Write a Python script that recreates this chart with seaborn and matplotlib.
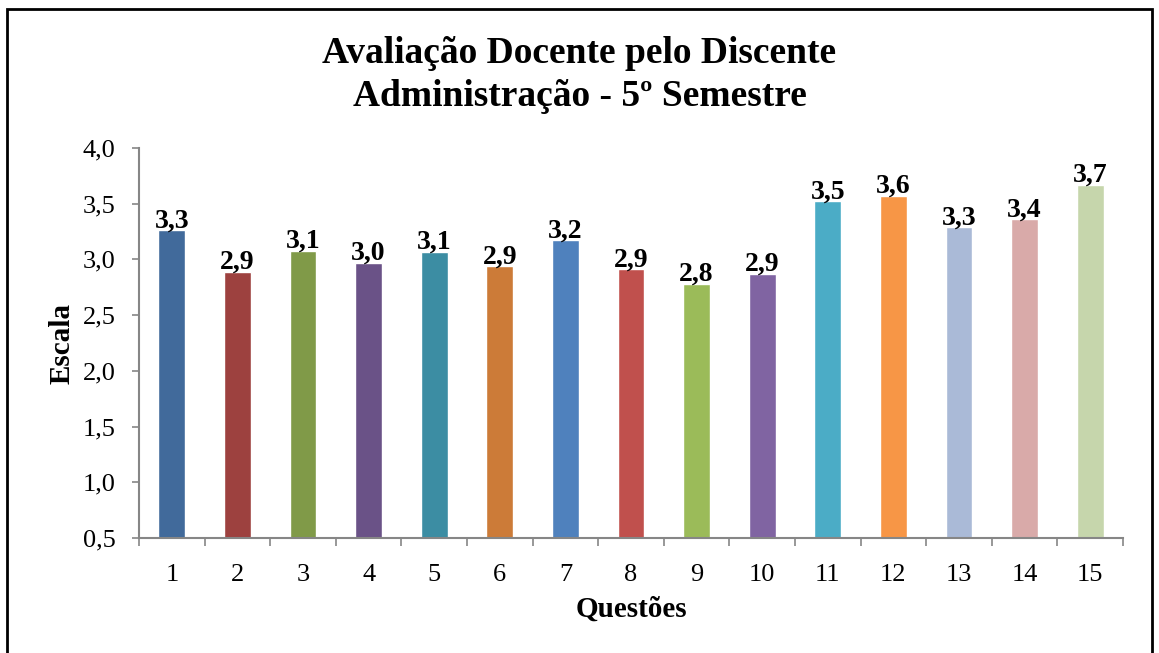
import matplotlib
matplotlib.use("Agg")
import matplotlib.pyplot as plt
import seaborn as sns
import pandas as pd
from matplotlib.patches import Rectangle
from matplotlib.ticker import FixedLocator, FuncFormatter

# ---- data ----
questions = [str(i) for i in range(1, 16)]
scores = [3.26, 2.89, 3.08, 2.97, 3.07, 2.94, 3.17, 2.91, 2.78, 2.87,
          3.52, 3.57, 3.29, 3.36, 3.67]
colors = ["#416A9B", "#9D413F", "#809A48", "#6A5287", "#3C8DA3",
          "#CC7B38", "#4F81BD", "#C0504D", "#9BBB59", "#8064A2",
          "#4BACC6", "#F79646", "#AABAD7", "#D9AAA9", "#C6D6AC"]
title = "Avaliação Docente pelo Discente\nAdministração - 5º Semestre"
xlabel = "Questões"
ylabel = "Escala"
yticks = [0.5, 1.0, 1.5, 2.0, 2.5, 3.0, 3.5, 4.0]

sns.set_style("white")
plt.rcParams["font.family"] = ["Liberation Serif", "DejaVu Serif"]
plt.rcParams["text.color"] = "black"
plt.rcParams["axes.labelcolor"] = "black"
plt.rcParams["xtick.color"] = "black"
plt.rcParams["ytick.color"] = "black"

df = pd.DataFrame({"q": questions, "v": scores})

fig = plt.figure(figsize=(11.59, 6.53), dpi=100)
fig.patch.set_facecolor("white")
ax = fig.add_axes([139/1159, 1-538/653, (1123-139)/1159, (538-148)/653])

sns.barplot(data=df, x="q", y="v", hue="q", palette=dict(zip(questions, colors)),
            dodge=False, width=0.41, legend=False, ax=ax, saturation=1,
            order=questions, hue_order=questions)

ax.set_ylim(0.5, 4.0)
ax.set_xlim(-0.5, len(questions) - 0.5)
ax.set_yticks(yticks)
ax.yaxis.set_major_formatter(FuncFormatter(lambda v, p: f"{v:.1f}".replace(".", ",")))
ax.tick_params(axis="y", labelsize=19, length=5, width=1.2, color="#868686",
               labelcolor="black", direction="out", left=True, pad=12)
ax.tick_params(axis="x", which="major", labelsize=19, length=0, pad=19,
               labelcolor="black")
ax.xaxis.set_minor_locator(FixedLocator([i - 0.5 for i in range(len(questions) + 1)]))
ax.tick_params(axis="x", which="minor", length=6, width=1.2, color="#868686",
               direction="out", bottom=True)

for s in ["top", "right"]:
    ax.spines[s].set_visible(False)
for s in ["left", "bottom"]:
    ax.spines[s].set_color("#868686")
    ax.spines[s].set_linewidth(1.5)

ax.set_xlabel(xlabel, fontsize=21, fontweight="bold", labelpad=7, color="black")
ax.set_ylabel(ylabel, fontsize=21, fontweight="bold", labelpad=5, color="black")

for i, v in enumerate(scores):
    ax.annotate(f"{v:.1f}".replace(".", ","), (i, v), xytext=(0, 2),
                textcoords="offset points", ha="center", va="baseline",
                fontsize=20, fontweight="bold", color="black")

fig.text(0.5, 1 - 75/653, title, ha="center", va="center", fontsize=27,
         fontweight="bold", linespacing=1.32, color="black")

fig.add_artist(Rectangle((7/1159, -0.05), (1152-7)/1159, 1.05 - 9/653,
                         transform=fig.transFigure, fill=False,
                         edgecolor="black", linewidth=2))

fig.savefig("out.png", dpi=100)
